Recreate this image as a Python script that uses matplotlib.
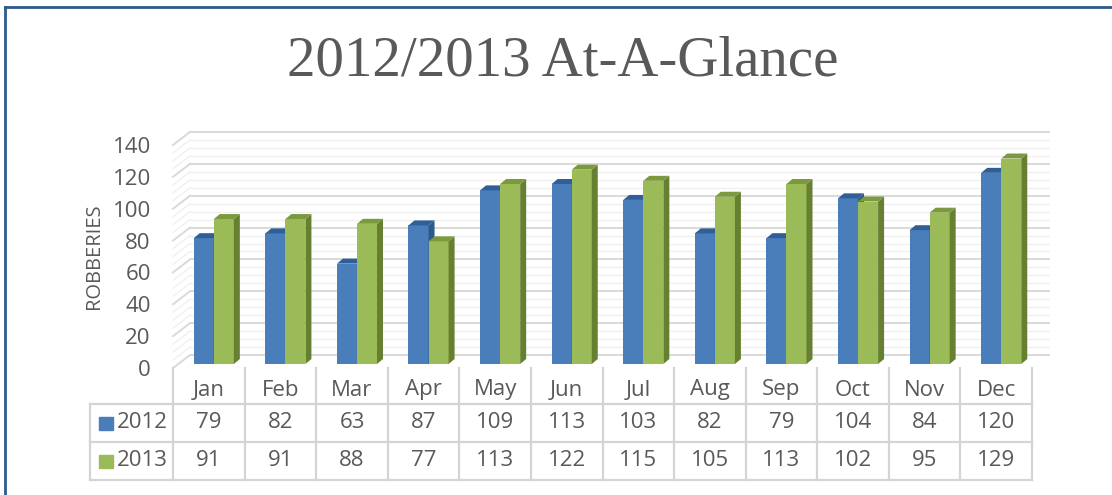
import matplotlib
matplotlib.use("Agg")
import matplotlib.pyplot as plt
from matplotlib.patches import Polygon, Rectangle
from matplotlib.lines import Line2D
from matplotlib import transforms

months = ["Jan", "Feb", "Mar", "Apr", "May", "Jun", "Jul", "Aug", "Sep", "Oct", "Nov", "Dec"]
robberies_2012 = [79, 82, 63, 87, 109, 113, 103, 82, 79, 104, 84, 120]
robberies_2013 = [91, 91, 88, 77, 113, 122, 115, 105, 113, 102, 95, 129]
series_names = ["2012", "2013"]
y_ticks = [0, 20, 40, 60, 80, 100, 120, 140]

W, H = 1112, 495
TXT = "#595959"
GRID = "#d9d9d9"
MINOR = "#efefef"
TABLE = "#d4d4d4"
FS = 16
# front, side, top
BLUE = ("#4a7ebb", "#2c5a8c", "#2f5f99")
GREEN = ("#9bbb59", "#667f30", "#7b9a3e")

plt.rcParams["font.family"] = ["Open Sans", "DejaVu Sans"]

fig = plt.figure(figsize=(W / 100, H / 100), dpi=100)

def fx(px):
    return px / W

def fy(py):
    return 1 - py / H

# plot area front plane in pixels
left, right, bottom, top = 173, 1032, 368, 145
ax = fig.add_axes([fx(left), fy(bottom), fx(right - left), (bottom - top) / H])
ax.set_xlim(0, 12)
ax.set_ylim(0, 140)
for s in ax.spines.values():
    s.set_visible(False)
ax.set_xticks([])
ax.set_yticks(y_ticks)
ax.tick_params(axis="y", length=0, pad=16, labelsize=FS, labelcolor=TXT)
ax.patch.set_alpha(0)

ux = (right - left) / 12.0      # px per x unit
uy = (bottom - top) / 140.0     # px per y unit
wall_dx, wall_dy = 17 / ux, 13 / uy

# back wall gridlines + left side wall
for v in range(0, 141, 5):
    major = v % 20 == 0
    c = GRID if major else MINOR
    lw = 1.4 if major else 0.9
    ax.plot([wall_dx, 12 + wall_dx], [v + wall_dy, v + wall_dy], color=c, lw=lw,
            clip_on=False, zorder=1)
    ax.plot([0, wall_dx], [v, v + wall_dy], color=c, lw=lw, clip_on=False, zorder=1)

# bars with fake depth
bar_w = 0.28
shift_x, base = 5 / ux, 4 / uy
dx, dy = 6 / ux, 5 / uy
for k, (vals, cols) in enumerate([(robberies_2012, BLUE), (robberies_2013, GREEN)]):
    for i, v in enumerate(vals):
        x0 = i + 0.5 - bar_w + k * bar_w + shift_x
        x1 = x0 + bar_w
        y0, y1 = base, base + v
        z = 3 + 2 * i + k
        ax.bar(x0, v, bar_w, bottom=base, align="edge", color=cols[0], lw=0,
               zorder=z)
        ax.add_patch(Polygon([(x1, y0), (x1 + dx, y0 + dy), (x1 + dx, y1 + dy), (x1, y1)],
                             closed=True, color=cols[1], lw=0, zorder=z, clip_on=False))
        ax.add_patch(Polygon([(x0, y1), (x0 + dx, y1 + dy), (x1 + dx, y1 + dy), (x1, y1)],
                             closed=True, color=cols[2], lw=0, zorder=z, clip_on=False))

ax.set_ylabel("ROBBERIES", fontsize=14.5, color=TXT, labelpad=6)

# data table under the chart
tr = transforms.blended_transform_factory(ax.transData, fig.transFigure)
row_y = [390, 423, 461]
for k in range(13):
    fig.add_artist(Line2D([k, k], [fy(368), fy(480)], transform=tr, color=TABLE, lw=1.6))
for py in [404, 442, 480]:
    fig.add_artist(Line2D([fx(90), fx(right)], [fy(py), fy(py)], color=TABLE, lw=1.6))
fig.add_artist(Line2D([fx(90), fx(90)], [fy(404), fy(480)], color=TABLE, lw=1.6))

for i, m in enumerate(months):
    fig.text(i + 0.5, fy(row_y[0]), m, transform=tr, ha="center", va="center",
             fontsize=FS, color=TXT)
for r, (vals, cols) in enumerate([(robberies_2012, BLUE), (robberies_2013, GREEN)]):
    yy = fy(row_y[r + 1])
    for i, v in enumerate(vals):
        fig.text(i + 0.5, yy, str(v), transform=tr, ha="center", va="center",
                 fontsize=FS, color=TXT)
    fig.add_artist(Rectangle((fx(99), yy - 6.5 / H), 14 / W, 13 / H, color=cols[0],
                             transform=fig.transFigure))
    fig.text(fx(117), yy, series_names[r], ha="left", va="center", fontsize=FS, color=TXT)

fig.text(fx(563), fy(61), "2012/2013 At-A-Glance", ha="center", va="center",
         fontsize=41, color=TXT, family=["Liberation Serif", "DejaVu Serif"])

# frame lines (top and left)
border = "#2f5b8c"
fig.add_artist(Line2D([fx(5), 1], [fy(7), fy(7)], color=border, lw=2))
fig.add_artist(Line2D([fx(5), fx(5)], [fy(7), 0], color=border, lw=2))

fig.savefig("out.png", dpi=100)
